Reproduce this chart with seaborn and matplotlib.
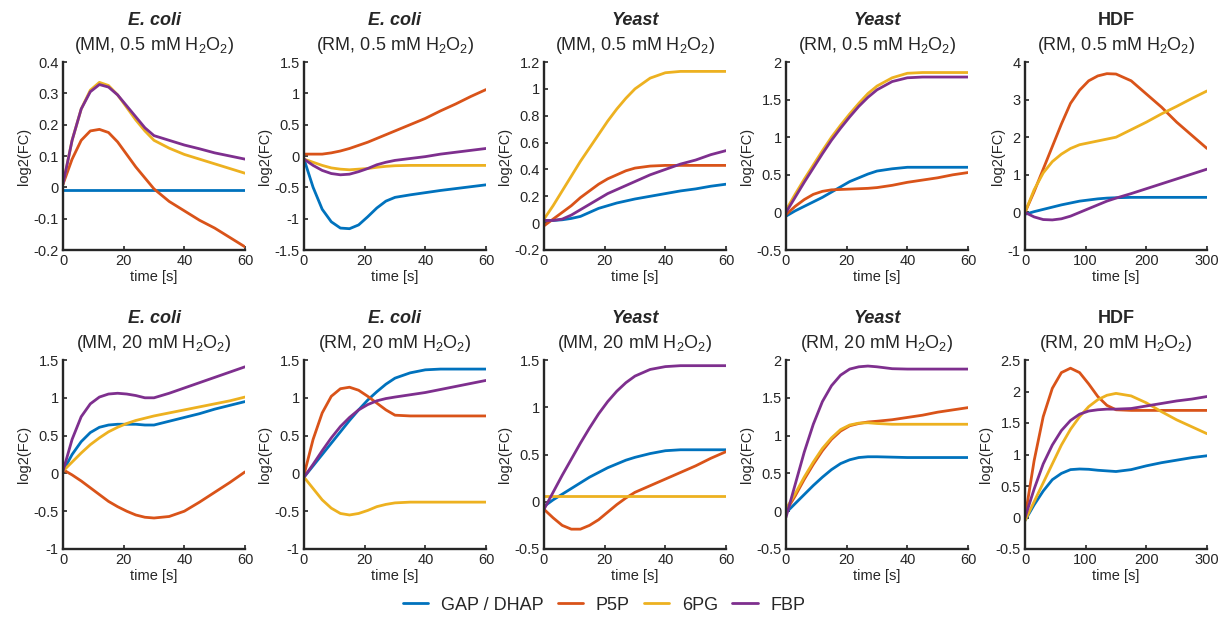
import numpy as np
import pandas as pd
import matplotlib
matplotlib.use("Agg")
import matplotlib.pyplot as plt
import matplotlib.transforms as mtransforms
from matplotlib.lines import Line2D
import seaborn as sns

# ---------------- data ----------------
metabolites = ["GAP / DHAP", "P5P", "6PG", "FBP"]
colors = ["#0072BD", "#D95319", "#EDB120", "#7E2F8E"]

t60 = [0, 3, 6, 9, 12, 15, 18, 21, 24, 27, 30, 35, 40, 45, 50, 55, 60]
t300 = [0, 15, 30, 45, 60, 75, 90, 105, 120, 135, 150, 175, 200, 225, 250, 275, 300]

organisms = ["E. coli", "E. coli", "Yeast", "Yeast", "HDF",
             "E. coli", "E. coli", "Yeast", "Yeast", "HDF"]
conditions = ["MM, 0.5", "RM, 0.5", "MM, 0.5", "RM, 0.5", "RM, 0.5",
              "MM, 20", "RM, 20", "MM, 20", "RM, 20", "RM, 20"]

# panel 1: E. coli MM 0.5 mM
ecoli_mm05_gap = [-0.01] * 17
ecoli_mm05_p5p = [0.01, 0.09, 0.15, 0.18, 0.185, 0.175, 0.145, 0.105, 0.065, 0.03, -0.005, -0.045, -0.075, -0.105, -0.13, -0.16, -0.19]
ecoli_mm05_6pg = [0.01, 0.15, 0.25, 0.31, 0.335, 0.325, 0.295, 0.255, 0.215, 0.18, 0.15, 0.125, 0.105, 0.09, 0.075, 0.06, 0.045]
ecoli_mm05_fbp = [0.01, 0.15, 0.25, 0.305, 0.328, 0.32, 0.295, 0.26, 0.225, 0.19, 0.165, 0.15, 0.135, 0.123, 0.11, 0.1, 0.09]

# panel 2: E. coli RM 0.5 mM
ecoli_rm05_gap = [-0.05, -0.5, -0.85, -1.05, -1.15, -1.16, -1.1, -0.97, -0.83, -0.72, -0.66, -0.62, -0.585, -0.55, -0.52, -0.49, -0.46]
ecoli_rm05_p5p = [0.03, 0.03, 0.03, 0.05, 0.08, 0.12, 0.17, 0.22, 0.28, 0.34, 0.40, 0.5, 0.6, 0.72, 0.83, 0.95, 1.06]
ecoli_rm05_6pg = [-0.05, -0.1, -0.15, -0.19, -0.21, -0.22, -0.21, -0.2, -0.18, -0.165, -0.155, -0.15, -0.15, -0.15, -0.15, -0.15, -0.15]
ecoli_rm05_fbp = [-0.05, -0.15, -0.23, -0.28, -0.3, -0.29, -0.25, -0.2, -0.14, -0.1, -0.07, -0.04, -0.01, 0.03, 0.06, 0.09, 0.12]

# panel 3: Yeast MM 0.5 mM
yeast_mm05_gap = [0.02, 0.02, 0.025, 0.035, 0.05, 0.08, 0.11, 0.13, 0.15, 0.165, 0.18, 0.2, 0.22, 0.24, 0.255, 0.275, 0.29]
yeast_mm05_p5p = [-0.02, 0.03, 0.08, 0.13, 0.19, 0.24, 0.29, 0.33, 0.36, 0.39, 0.41, 0.425, 0.43, 0.43, 0.43, 0.43, 0.43]
yeast_mm05_6pg = [0.03, 0.13, 0.24, 0.35, 0.46, 0.56, 0.66, 0.76, 0.85, 0.93, 1.0, 1.08, 1.12, 1.13, 1.13, 1.13, 1.13]
yeast_mm05_fbp = [0.02, 0.02, 0.03, 0.06, 0.1, 0.14, 0.18, 0.22, 0.25, 0.28, 0.31, 0.36, 0.4, 0.44, 0.47, 0.51, 0.54]

# panel 4: Yeast RM 0.5 mM
yeast_rm05_gap = [-0.05, 0.02, 0.08, 0.14, 0.2, 0.27, 0.34, 0.41, 0.46, 0.51, 0.55, 0.58, 0.6, 0.6, 0.6, 0.6, 0.6]
yeast_rm05_p5p = [-0.03, 0.08, 0.17, 0.24, 0.28, 0.3, 0.305, 0.31, 0.315, 0.32, 0.33, 0.36, 0.4, 0.43, 0.46, 0.5, 0.53]
yeast_rm05_6pg = [0.03, 0.24, 0.44, 0.63, 0.82, 1.0, 1.16, 1.31, 1.45, 1.58, 1.68, 1.79, 1.85, 1.86, 1.86, 1.86, 1.86]
yeast_rm05_fbp = [0.0, 0.2, 0.4, 0.59, 0.78, 0.96, 1.12, 1.27, 1.41, 1.53, 1.63, 1.74, 1.79, 1.8, 1.8, 1.8, 1.8]

# panel 5: HDF RM 0.5 mM
hdf_rm05_gap = [-0.05, 0.02, 0.08, 0.14, 0.2, 0.25, 0.3, 0.33, 0.36, 0.38, 0.39, 0.4, 0.4, 0.4, 0.4, 0.4, 0.4]
hdf_rm05_p5p = [0.0, 0.55, 1.15, 1.75, 2.35, 2.9, 3.25, 3.5, 3.63, 3.69, 3.68, 3.5, 3.15, 2.8, 2.4, 2.05, 1.7]
hdf_rm05_6pg = [0.0, 0.6, 1.05, 1.35, 1.55, 1.7, 1.8, 1.85, 1.9, 1.95, 2.0, 2.2, 2.4, 2.62, 2.82, 3.03, 3.23]
hdf_rm05_fbp = [0.0, -0.12, -0.19, -0.2, -0.17, -0.1, 0.0, 0.1, 0.2, 0.3, 0.38, 0.5, 0.63, 0.76, 0.89, 1.02, 1.15]

# panel 6: E. coli MM 20 mM
ecoli_mm20_gap = [0.03, 0.25, 0.42, 0.54, 0.61, 0.64, 0.65, 0.65, 0.65, 0.64, 0.64, 0.69, 0.74, 0.79, 0.85, 0.9, 0.95]
ecoli_mm20_p5p = [0.05, -0.02, -0.1, -0.19, -0.28, -0.37, -0.44, -0.5, -0.55, -0.58, -0.59, -0.57, -0.5, -0.38, -0.25, -0.12, 0.02]
ecoli_mm20_6pg = [0.03, 0.15, 0.27, 0.38, 0.47, 0.55, 0.61, 0.66, 0.7, 0.73, 0.76, 0.8, 0.84, 0.88, 0.92, 0.96, 1.01]
ecoli_mm20_fbp = [0.03, 0.45, 0.75, 0.92, 1.01, 1.05, 1.06, 1.05, 1.03, 1.0, 1.0, 1.06, 1.13, 1.2, 1.27, 1.34, 1.41]

# panel 7: E. coli RM 20 mM
ecoli_rm20_gap = [-0.05, 0.1, 0.25, 0.4, 0.55, 0.7, 0.84, 0.97, 1.08, 1.18, 1.26, 1.33, 1.37, 1.38, 1.38, 1.38, 1.38]
ecoli_rm20_p5p = [-0.02, 0.45, 0.8, 1.02, 1.12, 1.14, 1.1, 1.02, 0.93, 0.84, 0.77, 0.76, 0.76, 0.76, 0.76, 0.76, 0.76]
ecoli_rm20_6pg = [-0.05, -0.2, -0.35, -0.46, -0.53, -0.55, -0.53, -0.49, -0.44, -0.41, -0.39, -0.38, -0.38, -0.38, -0.38, -0.38, -0.38]
ecoli_rm20_fbp = [-0.05, 0.12, 0.3, 0.47, 0.62, 0.74, 0.84, 0.91, 0.96, 0.99, 1.01, 1.04, 1.07, 1.11, 1.15, 1.19, 1.23]

# panel 8: Yeast MM 20 mM
yeast_mm20_gap = [-0.05, 0.02, 0.08, 0.14, 0.2, 0.26, 0.31, 0.36, 0.4, 0.44, 0.47, 0.51, 0.54, 0.55, 0.55, 0.55, 0.55]
yeast_mm20_p5p = [-0.08, -0.17, -0.25, -0.29, -0.29, -0.25, -0.19, -0.11, -0.03, 0.04, 0.1, 0.17, 0.24, 0.31, 0.38, 0.46, 0.53]
yeast_mm20_6pg = [0.06] * 17
yeast_mm20_fbp = [-0.08, 0.1, 0.28, 0.45, 0.62, 0.78, 0.93, 1.06, 1.17, 1.26, 1.33, 1.4, 1.43, 1.44, 1.44, 1.44, 1.44]

# panel 9: Yeast RM 20 mM
yeast_rm20_gap = [-0.02, 0.1, 0.22, 0.34, 0.45, 0.55, 0.63, 0.68, 0.71, 0.72, 0.72, 0.715, 0.71, 0.71, 0.71, 0.71, 0.71]
yeast_rm20_p5p = [0.0, 0.2, 0.42, 0.62, 0.8, 0.95, 1.06, 1.13, 1.16, 1.18, 1.19, 1.21, 1.24, 1.27, 1.31, 1.34, 1.37]
yeast_rm20_6pg = [0.03, 0.23, 0.45, 0.65, 0.83, 0.97, 1.08, 1.14, 1.165, 1.17, 1.16, 1.15, 1.15, 1.15, 1.15, 1.15, 1.15]
yeast_rm20_fbp = [-0.08, 0.35, 0.78, 1.15, 1.45, 1.66, 1.8, 1.88, 1.91, 1.92, 1.91, 1.885, 1.88, 1.88, 1.88, 1.88, 1.88]

# panel 10: HDF RM 20 mM
hdf_rm20_gap = [-0.05, 0.2, 0.42, 0.6, 0.7, 0.76, 0.77, 0.765, 0.75, 0.74, 0.73, 0.76, 0.82, 0.87, 0.91, 0.95, 0.98]
hdf_rm20_p5p = [0.0, 0.9, 1.6, 2.05, 2.3, 2.37, 2.3, 2.12, 1.92, 1.78, 1.71, 1.7, 1.7, 1.7, 1.7, 1.7, 1.7]
hdf_rm20_6pg = [-0.05, 0.25, 0.55, 0.85, 1.15, 1.4, 1.6, 1.76, 1.87, 1.94, 1.97, 1.93, 1.82, 1.68, 1.55, 1.44, 1.33]
hdf_rm20_fbp = [0.0, 0.45, 0.85, 1.15, 1.38, 1.54, 1.64, 1.69, 1.71, 1.72, 1.72, 1.73, 1.77, 1.81, 1.85, 1.88, 1.92]

panels = [
    (t60, [ecoli_mm05_gap, ecoli_mm05_p5p, ecoli_mm05_6pg, ecoli_mm05_fbp]),
    (t60, [ecoli_rm05_gap, ecoli_rm05_p5p, ecoli_rm05_6pg, ecoli_rm05_fbp]),
    (t60, [yeast_mm05_gap, yeast_mm05_p5p, yeast_mm05_6pg, yeast_mm05_fbp]),
    (t60, [yeast_rm05_gap, yeast_rm05_p5p, yeast_rm05_6pg, yeast_rm05_fbp]),
    (t300, [hdf_rm05_gap, hdf_rm05_p5p, hdf_rm05_6pg, hdf_rm05_fbp]),
    (t60, [ecoli_mm20_gap, ecoli_mm20_p5p, ecoli_mm20_6pg, ecoli_mm20_fbp]),
    (t60, [ecoli_rm20_gap, ecoli_rm20_p5p, ecoli_rm20_6pg, ecoli_rm20_fbp]),
    (t60, [yeast_mm20_gap, yeast_mm20_p5p, yeast_mm20_6pg, yeast_mm20_fbp]),
    (t60, [yeast_rm20_gap, yeast_rm20_p5p, yeast_rm20_6pg, yeast_rm20_fbp]),
    (t300, [hdf_rm20_gap, hdf_rm20_p5p, hdf_rm20_6pg, hdf_rm20_fbp]),
]

yticks = [
    [-0.2, -0.1, 0, 0.1, 0.2, 0.3, 0.4],
    [-1.5, -1, -0.5, 0, 0.5, 1, 1.5],
    [-0.2, 0, 0.2, 0.4, 0.6, 0.8, 1, 1.2],
    [-0.5, 0, 0.5, 1, 1.5, 2],
    [-1, 0, 1, 2, 3, 4],
    [-1, -0.5, 0, 0.5, 1, 1.5],
    [-1, -0.5, 0, 0.5, 1, 1.5],
    [-0.5, 0, 0.5, 1, 1.5],
    [-0.5, 0, 0.5, 1, 1.5, 2],
    [-0.5, 0, 0.5, 1, 1.5, 2, 2.5],
]
xticks60 = [0, 20, 40, 60]
xticks300 = [0, 100, 200, 300]

# ---------------- style ----------------
sns.set_theme(style="white")
txt = "#262626"
plt.rcParams.update({
    "font.family": ["Liberation Sans", "DejaVu Sans"],
    "axes.edgecolor": txt,
    "axes.linewidth": 1.7,
    "xtick.color": txt,
    "ytick.color": txt,
    "text.color": txt,
    "axes.labelcolor": txt,
    "xtick.direction": "in",
    "ytick.direction": "in",
    "xtick.major.size": 3,
    "ytick.major.size": 3,
    "xtick.major.width": 1.2,
    "ytick.major.width": 1.2,
    "xtick.bottom": True,
    "ytick.left": True,
    "xtick.labelsize": 10.5,
    "ytick.labelsize": 10.5,
    "axes.labelsize": 10.5,
})

W, H = 1232, 626
fig = plt.figure(figsize=(W / 100, H / 100), dpi=100)

lefts = [63, 304, 544, 786, 1025]
width = 182
rows = [(62, 250), (360, 549)]

def fmt(v, pos=None):
    s = f"{v:g}"
    return "0" if s in ("-0", "0") else s

for i, (tt, series) in enumerate(panels):
    r, c = divmod(i, 5)
    top, bot = rows[r]
    ax = fig.add_axes([lefts[c] / W, 1 - bot / H, width / W, (bot - top) / H])
    df = pd.DataFrame({
        "time": np.tile(tt, 4),
        "value": np.concatenate(series),
        "metabolite": np.repeat(metabolites, len(tt)),
    })
    sns.lineplot(data=df, x="time", y="value", hue="metabolite",
                 hue_order=metabolites, palette=colors, linewidth=2.0,
                 ax=ax, legend=False)
    yt = yticks[i]
    ax.set_ylim(yt[0], yt[-1])
    ax.set_yticks(yt)
    ax.yaxis.set_major_formatter(matplotlib.ticker.FuncFormatter(fmt))
    xt = xticks300 if tt is t300 else xticks60
    ax.set_xlim(xt[0], xt[-1])
    ax.set_xticks(xt)
    ax.set_xticklabels([str(v) for v in xt])
    for s in ("top", "right"):
        ax.spines[s].set_visible(False)
    ax.set_xlabel("time [s]", labelpad=1)
    ax.set_ylabel("log2(FC)", labelpad=2)
    ax.tick_params(axis="both", pad=3)

    org = organisms[i]
    style = "normal" if org == "HDF" else "italic"
    t1 = mtransforms.offset_copy(ax.transAxes, fig=fig, x=0, y=37, units="dots")
    t2 = mtransforms.offset_copy(ax.transAxes, fig=fig, x=0, y=12, units="dots")
    ax.text(0.5, 1.0, org, transform=t1, ha="center", va="baseline",
            fontsize=13, fontweight="bold", fontstyle=style)
    med, conc = conditions[i].split(", ")
    ax.text(0.5, 1.0, f"({med}, {conc} mM H$\\mathregular{{_2}}$O$\\mathregular{{_2}}$)",
            transform=t2, ha="center", va="baseline", fontsize=13)

handles = [Line2D([], [], color=col, lw=2.0) for col in colors]
fig.legend(handles, metabolites, loc="center", bbox_to_anchor=(604 / W, 1 - 605 / H),
           ncol=4, frameon=False, fontsize=13, handlelength=1.4,
           columnspacing=0.8, handletextpad=0.7)

fig.savefig("out.png", dpi=100)
